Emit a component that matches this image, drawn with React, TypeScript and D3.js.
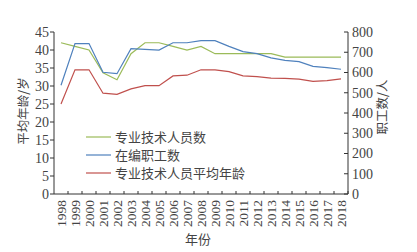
import React from 'react';
import * as d3 from 'd3';

const years = ['1998','1999','2000','2001','2002','2003','2004','2005','2006','2007','2008','2009','2010','2011','2012','2013','2014','2015','2016','2017','2018'];
const techStaff = [747, 729, 711, 598, 564, 693, 747, 747, 729, 711, 729, 693, 693, 693, 693, 693, 676, 676, 676, 676, 676];
const totalStaff = [537, 743, 743, 601, 594, 718, 714, 711, 747, 747, 757, 757, 729, 703, 693, 672, 660, 654, 630, 624, 616];
const avgAge = [25.0, 34.5, 34.5, 28.0, 27.7, 29.2, 30.1, 30.1, 32.8, 33.0, 34.5, 34.5, 34.0, 32.8, 32.6, 32.2, 32.1, 31.9, 31.3, 31.5, 32.0];
const leftTicks = [0, 5, 10, 15, 20, 25, 30, 35, 40, 45];
const rightTicks = [0, 100, 200, 300, 400, 500, 600, 700, 800];

const W = 417, H = 252;
const m = { left: 54, right: 348, top: 32, bottom: 194 };
const digits = "'Liberation Serif', 'Times New Roman', serif";
const cjk = "'Noto Sans CJK SC', sans-serif";
const textColor = '#444';
const axisColor = '#333';

const series = [
  { name: '专业技术人员数', color: '#9bbb59', values: techStaff, axis: 'right' },
  { name: '在编职工数', color: '#4f81bd', values: totalStaff, axis: 'right' },
  { name: '专业技术人员平均年龄', color: '#c0504d', values: avgAge, axis: 'left' },
];

export default function App() {
  const x = d3.scaleBand().domain(years).range([m.left, m.right]);
  const yL = d3.scaleLinear().domain([0, 45]).range([m.bottom, m.top]);
  const yR = d3.scaleLinear().domain([0, 800]).range([m.bottom, m.top]);
  const cx = (y: string) => (x(y) ?? 0) + x.bandwidth() / 2;

  return (
    <svg width={W} height={H} style={{ position: 'absolute', left: 0, top: 0, background: '#fff' }}>
      {series.map(s => {
        const ys = s.axis === 'left' ? yL : yR;
        const line = d3.line<number>().x((_, i) => cx(years[i])).y(d => ys(d));
        return <path key={s.name} d={line(s.values) ?? ''} fill="none" stroke={s.color} strokeWidth={1.2} />;
      })}

      {/* left axis */}
      <line x1={m.left} x2={m.left} y1={yL(45)} y2={m.bottom} stroke={axisColor} />
      {leftTicks.map(t => (
        <g key={t}>
          <line x1={m.left - 4} x2={m.left} y1={yL(t)} y2={yL(t)} stroke={axisColor} />
          <text x={m.left - 5} y={yL(t)} dy="0.35em" textAnchor="end" style={{ fontFamily: digits }} fontSize={14} fill={textColor}>{t}</text>
        </g>
      ))}
      <text transform={`translate(24,${(m.top + m.bottom) / 2 - 2}) rotate(-90)`} textAnchor="middle" dy="0.35em"
        style={{ fontFamily: cjk }} fontSize={12.5} fill={textColor}>平均年龄/岁</text>

      {/* right axis */}
      <line x1={m.right} x2={m.right} y1={yR(800)} y2={m.bottom} stroke={axisColor} />
      {rightTicks.map(t => (
        <g key={t}>
          <line x1={m.right - 4} x2={m.right} y1={yR(t)} y2={yR(t)} stroke={axisColor} />
          <text x={m.right + 4} y={yR(t)} dy="0.35em" textAnchor="start" style={{ fontFamily: digits }} fontSize={14} fill={textColor}>{t}</text>
        </g>
      ))}
      <text transform={`translate(383,${(m.top + m.bottom) / 2 - 6}) rotate(-90)`} textAnchor="middle" dy="0.35em"
        style={{ fontFamily: cjk }} fontSize={12.5} fill={textColor}>职工数/人</text>

      {/* bottom axis */}
      <line x1={m.left} x2={m.right} y1={m.bottom} y2={m.bottom} stroke={axisColor} />
      {years.map(y => (
        <line key={'t' + y} x1={(x(y) ?? 0) + x.bandwidth()} x2={(x(y) ?? 0) + x.bandwidth()} y1={m.bottom - 3} y2={m.bottom} stroke={axisColor} />
      ))}
      {years.map(y => (
        <text key={y} transform={`translate(${cx(y)},${m.bottom + 6}) rotate(-90)`} textAnchor="end" dy="0.35em"
          style={{ fontFamily: digits }} fontSize={13.5} fill={textColor}>{y}</text>
      ))}
      <text x={(m.left + m.right) / 2 - 3} y={244} textAnchor="middle" style={{ fontFamily: cjk }} fontSize={13} fill={textColor}>年份</text>

      {/* legend */}
      {series.map((s, i) => (
        <g key={'lg' + s.name} transform={`translate(86,${137 + i * 18})`}>
          <line x1={0} x2={25} y1={0} y2={0} stroke={s.color} strokeWidth={1.2} />
          <text x={29} y={0} dy="0.35em" style={{ fontFamily: cjk }} fontSize={13} fill={textColor}>{s.name}</text>
        </g>
      ))}
    </svg>
  );
}
